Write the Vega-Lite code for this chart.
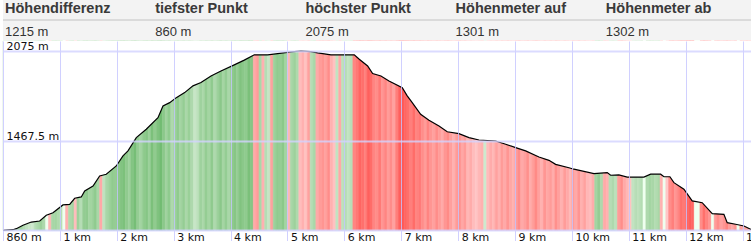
{
  "$schema": "https://vega.github.io/schema/vega-lite/v6.json",
  "padding": 0,
  "background": "#ffffff",
  "spacing": 0,
  "config": {"view": {"stroke": null}, "concat": {"spacing": 0}},
  "datasets": {
    "head": [
      {"i": 0, "label": "Höhendifferenz", "value": "1215 m"},
      {"i": 1, "label": "tiefster Punkt", "value": "860 m"},
      {"i": 2, "label": "höchster Punkt", "value": "2075 m"},
      {"i": 3, "label": "Höhenmeter auf", "value": "1301 m"},
      {"i": 4, "label": "Höhenmeter ab", "value": "1302 m"}
    ],
    "prof": [
      {"d":0,"h":860},{"d":0.176,"h":864},{"d":0.234,"h":871},{"d":0.351,"h":894},{"d":0.497,"h":916},{"d":0.645,"h":923},{"d":0.761,"h":962},{"d":0.879,"h":979},{"d":1.054,"h":1032},{"d":1.172,"h":1036},{"d":1.26,"h":1077},{"d":1.376,"h":1086},{"d":1.436,"h":1126},{"d":1.582,"h":1160},{"d":1.699,"h":1228},{"d":1.815,"h":1240},{"d":1.991,"h":1296},{"d":2.109,"h":1364},{"d":2.197,"h":1398},{"d":2.343,"h":1488},{"d":2.518,"h":1545},{"d":2.724,"h":1623},{"d":2.812,"h":1703},{"d":2.93,"h":1725},{"d":3.046,"h":1759},{"d":3.193,"h":1793},{"d":3.339,"h":1839},{"d":3.48,"h":1861},{"d":3.656,"h":1906},{"d":3.831,"h":1940},{"d":4.065,"h":1981},{"d":4.241,"h":2013},{"d":4.417,"h":2049},{"d":4.652,"h":2049},{"d":4.828,"h":2057},{"d":5.061,"h":2069},{"d":5.237,"h":2075},{"d":5.413,"h":2071},{"d":5.531,"h":2062},{"d":5.764,"h":2049},{"d":5.94,"h":2049},{"d":6.174,"h":2049},{"d":6.262,"h":2019},{"d":6.409,"h":1974},{"d":6.497,"h":1922},{"d":6.643,"h":1906},{"d":6.784,"h":1872},{"d":7.018,"h":1827},{"d":7.105,"h":1771},{"d":7.193,"h":1725},{"d":7.341,"h":1646},{"d":7.487,"h":1606},{"d":7.663,"h":1567},{"d":7.808,"h":1528},{"d":8.014,"h":1515},{"d":8.19,"h":1488},{"d":8.366,"h":1472},{"d":8.659,"h":1465},{"d":8.835,"h":1443},{"d":9.011,"h":1420},{"d":9.186,"h":1398},{"d":9.42,"h":1357},{"d":9.596,"h":1334},{"d":9.713,"h":1307},{"d":9.947,"h":1284},{"d":10.035,"h":1274},{"d":10.387,"h":1244},{"d":10.62,"h":1251},{"d":10.68,"h":1233},{"d":10.826,"h":1235},{"d":10.972,"h":1221},{"d":11.265,"h":1221},{"d":11.383,"h":1240},{"d":11.559,"h":1240},{"d":11.617,"h":1223},{"d":11.722,"h":1223},{"d":11.793,"h":1183},{"d":11.968,"h":1138},{"d":12.114,"h":1059},{"d":12.29,"h":1047},{"d":12.466,"h":973},{"d":12.671,"h":968},{"d":12.729,"h":912},{"d":12.877,"h":901},{"d":13.023,"h":889},{"d":13.14,"h":867},{"d":13.2,"h":860}
    ],
    "str": [
      {"d":0.00,"g":8},{"d":0.05,"g":10},{"d":0.10,"g":12},{"d":0.15,"g":15},{"d":0.20,"g":18},{"d":0.25,"g":20},{"d":0.30,"g":22},{"d":0.35,"g":15},{"d":0.40,"g":10},{"d":0.45,"g":6},
      {"d":0.50,"g":5},{"d":0.55,"g":15},{"d":0.60,"g":20},{"d":0.65,"g":25},{"d":0.70,"g":18},{"d":0.75,"g":0},{"d":0.80,"g":-10},{"d":0.85,"g":20},{"d":0.90,"g":22},{"d":0.95,"g":18},
      {"d":1.00,"g":15},{"d":1.05,"g":0},{"d":1.10,"g":-12},{"d":1.15,"g":18},{"d":1.20,"g":22},{"d":1.25,"g":-8},{"d":1.30,"g":25},{"d":1.35,"g":15},{"d":1.40,"g":28},{"d":1.45,"g":30},
      {"d":1.50,"g":22},{"d":1.55,"g":25},{"d":1.60,"g":30},{"d":1.65,"g":20},{"d":1.70,"g":-15},{"d":1.75,"g":10},{"d":1.80,"g":20},{"d":1.85,"g":25},{"d":1.90,"g":30},{"d":1.95,"g":28},
      {"d":2.00,"g":32},{"d":2.05,"g":35},{"d":2.10,"g":38},{"d":2.15,"g":30},{"d":2.20,"g":25},{"d":2.25,"g":35},{"d":2.30,"g":40},{"d":2.35,"g":28},{"d":2.40,"g":22},{"d":2.45,"g":30},
      {"d":2.50,"g":34},{"d":2.55,"g":26},{"d":2.60,"g":38},{"d":2.65,"g":30},{"d":2.70,"g":36},{"d":2.75,"g":42},{"d":2.80,"g":32},{"d":2.85,"g":24},{"d":2.90,"g":30},{"d":2.95,"g":18},
      {"d":3.00,"g":25},{"d":3.05,"g":30},{"d":3.10,"g":22},{"d":3.15,"g":28},{"d":3.20,"g":20},{"d":3.25,"g":26},{"d":3.30,"g":18},{"d":3.35,"g":8},{"d":3.40,"g":12},{"d":3.45,"g":24},
      {"d":3.50,"g":20},{"d":3.55,"g":28},{"d":3.60,"g":22},{"d":3.65,"g":30},{"d":3.70,"g":18},{"d":3.75,"g":25},{"d":3.80,"g":32},{"d":3.85,"g":22},{"d":3.90,"g":28},{"d":3.95,"g":20},
      {"d":4.00,"g":30},{"d":4.05,"g":34},{"d":4.10,"g":28},{"d":4.15,"g":36},{"d":4.20,"g":32},{"d":4.25,"g":30},{"d":4.30,"g":38},{"d":4.35,"g":34},{"d":4.40,"g":-15},{"d":4.45,"g":-20},
      {"d":4.50,"g":20},{"d":4.55,"g":-12},{"d":4.60,"g":15},{"d":4.65,"g":8},{"d":4.70,"g":-18},{"d":4.75,"g":25},{"d":4.80,"g":30},{"d":4.85,"g":28},{"d":4.90,"g":32},{"d":4.95,"g":22},
      {"d":5.00,"g":-10},{"d":5.05,"g":20},{"d":5.10,"g":25},{"d":5.15,"g":18},{"d":5.20,"g":-8},{"d":5.25,"g":-12},{"d":5.30,"g":-6},{"d":5.35,"g":-18},{"d":5.40,"g":15},{"d":5.45,"g":20},
      {"d":5.50,"g":-15},{"d":5.55,"g":-20},{"d":5.60,"g":-22},{"d":5.65,"g":-18},{"d":5.70,"g":-25},{"d":5.75,"g":-12},{"d":5.80,"g":-6},{"d":5.85,"g":10},{"d":5.90,"g":-15},{"d":5.95,"g":12},
      {"d":6.00,"g":15},{"d":6.05,"g":10},{"d":6.10,"g":14},{"d":6.15,"g":-28},{"d":6.20,"g":-32},{"d":6.25,"g":-38},{"d":6.30,"g":-35},{"d":6.35,"g":-30},{"d":6.40,"g":-40},{"d":6.45,"g":-36},
      {"d":6.50,"g":-28},{"d":6.55,"g":-25},{"d":6.60,"g":-32},{"d":6.65,"g":-22},{"d":6.70,"g":-28},{"d":6.75,"g":-20},{"d":6.80,"g":-25},{"d":6.85,"g":-18},{"d":6.90,"g":-30},{"d":6.95,"g":-40},
      {"d":7.00,"g":-42},{"d":7.05,"g":-38},{"d":7.10,"g":-35},{"d":7.15,"g":-30},{"d":7.20,"g":-36},{"d":7.25,"g":-28},{"d":7.30,"g":-32},{"d":7.35,"g":-25},{"d":7.40,"g":-20},{"d":7.45,"g":-28},
      {"d":7.50,"g":-22},{"d":7.55,"g":-18},{"d":7.60,"g":-25},{"d":7.65,"g":-20},{"d":7.70,"g":-15},{"d":7.75,"g":-22},{"d":7.80,"g":-26},{"d":7.85,"g":-18},{"d":7.90,"g":-12},{"d":7.95,"g":-20},
      {"d":8.00,"g":-24},{"d":8.05,"g":-16},{"d":8.10,"g":-20},{"d":8.15,"g":-10},{"d":8.20,"g":-14},{"d":8.25,"g":-8},{"d":8.30,"g":-5},{"d":8.35,"g":-10},{"d":8.40,"g":-12},{"d":8.45,"g":5},
      {"d":8.50,"g":-8},{"d":8.55,"g":-14},{"d":8.60,"g":-10},{"d":8.65,"g":-18},{"d":8.70,"g":-12},{"d":8.75,"g":-20},{"d":8.80,"g":-15},{"d":8.85,"g":-22},{"d":8.90,"g":-16},{"d":8.95,"g":-12},
      {"d":9.00,"g":-20},{"d":9.05,"g":-25},{"d":9.10,"g":-15},{"d":9.15,"g":-18},{"d":9.20,"g":-24},{"d":9.25,"g":-14},{"d":9.30,"g":-20},{"d":9.35,"g":-26},{"d":9.40,"g":-18},{"d":9.45,"g":-12},
      {"d":9.50,"g":-22},{"d":9.55,"g":-16},{"d":9.60,"g":-20},{"d":9.65,"g":-14},{"d":9.70,"g":-24},{"d":9.75,"g":-18},{"d":9.80,"g":-12},{"d":9.85,"g":-20},{"d":9.90,"g":-15},{"d":9.95,"g":-10},
      {"d":10.00,"g":-20},{"d":10.05,"g":-15},{"d":10.10,"g":-22},{"d":10.15,"g":-12},{"d":10.20,"g":-18},{"d":10.25,"g":-10},{"d":10.30,"g":-8},{"d":10.35,"g":-14},{"d":10.40,"g":22},{"d":10.45,"g":28},
      {"d":10.50,"g":18},{"d":10.55,"g":-15},{"d":10.60,"g":-12},{"d":10.65,"g":15},{"d":10.70,"g":18},{"d":10.75,"g":12},{"d":10.80,"g":-20},{"d":10.85,"g":-25},{"d":10.90,"g":-15},{"d":10.95,"g":-10},
      {"d":11.00,"g":-6},{"d":11.05,"g":10},{"d":11.10,"g":14},{"d":11.15,"g":12},{"d":11.20,"g":16},{"d":11.25,"g":0},{"d":11.30,"g":18},{"d":11.35,"g":22},{"d":11.40,"g":20},{"d":11.45,"g":16},
      {"d":11.50,"g":20},{"d":11.55,"g":-12},{"d":11.60,"g":0},{"d":11.65,"g":-4},{"d":11.70,"g":-25},{"d":11.75,"g":-30},{"d":11.80,"g":-22},{"d":11.85,"g":-28},{"d":11.90,"g":-35},{"d":11.95,"g":-32},
      {"d":12.00,"g":-38},{"d":12.05,"g":-40},{"d":12.10,"g":-38},{"d":12.15,"g":0},{"d":12.20,"g":0},{"d":12.25,"g":-25},{"d":12.30,"g":-35},{"d":12.35,"g":-28},{"d":12.40,"g":-22},{"d":12.45,"g":0},
      {"d":12.50,"g":-20},{"d":12.55,"g":-25},{"d":12.60,"g":-18},{"d":12.65,"g":-22},{"d":12.70,"g":-28},{"d":12.75,"g":-20},{"d":12.80,"g":-15},{"d":12.85,"g":-22},{"d":12.90,"g":0},{"d":12.95,"g":-18},
      {"d":13.00,"g":-14},{"d":13.05,"g":-20},{"d":13.10,"g":-16},{"d":13.15,"g":-12},{"d":13.20}
    ]
  },
  "vconcat": [
    {
      "width": 751,
      "height": 40,
      "data": {"name": "head"},
      "view": {"fill": "#f3f3f3", "stroke": null},
      "layer": [
        {
          "mark": {"type": "rule", "color": "#dadada", "strokeWidth": 1},
          "encoding": {
            "y": {"datum": "v", "type": "nominal", "bandPosition": 0, "axis": null,
                  "scale": {"type": "band", "domain": ["k", "v"], "paddingInner": 0, "paddingOuter": 0}}
          }
        },
        {
          "mark": {"type": "text", "align": "left", "baseline": "alphabetic", "font": "Liberation Sans", "fontSize": 14.5, "fontWeight": "bold", "color": "#3a3a3a", "dx": 2, "dy": 3},
          "encoding": {
            "x": {"field": "i", "type": "quantitative", "axis": null, "scale": {"domain": [0, 5], "nice": false, "zero": false}},
            "y": {"datum": "k", "type": "nominal", "axis": null},
            "text": {"field": "label"}
          }
        },
        {
          "mark": {"type": "text", "align": "left", "baseline": "alphabetic", "font": "Liberation Sans", "fontSize": 13, "color": "#333333", "dx": 2, "dy": 5.7},
          "encoding": {
            "x": {"field": "i", "type": "quantitative", "axis": null},
            "y": {"datum": "v", "type": "nominal", "axis": null},
            "text": {"field": "value"}
          }
        }
      ]
    },
    {
      "width": 751,
      "height": 201,
      "layer": [
        {
          "data": {"name": "str"},
          "transform": [
            {"window": [{"op": "lead", "field": "d", "as": "dn"}], "sort": [{"field": "d", "order": "ascending"}]},
            {"filter": "datum.dn != null"}
          ],
          "mark": {"type": "rect", "strokeWidth": 0.6},
          "encoding": {
            "x": {"field": "d", "type": "quantitative",
                  "scale": {"domain": [0, 13.2], "nice": false, "zero": false},
                  "axis": {"values": [0,1,2,3,4,5,6,7,8,9,10,11,12,13], "grid": true, "gridColor": "#c4c4ff", "gridWidth": 1, "gridOpacity": 0.8,
                           "domain": false, "ticks": false, "tickSize": 0, "labelAlign": "left", "labelBaseline": "alphabetic",
                           "labelPadding": -1.5, "labelOffset": 3, "labelFont": "DejaVu Sans", "labelFontSize": 11, "labelColor": "#111111",
                           "labelExpr": "datum.value == 0 ? '860 m' : datum.value + ' km'", "labelOverlap": false, "labelFlush": false,
                           "title": null, "zindex": 1}},
            "x2": {"field": "dn"},
            "y": {"datum": 860, "type": "quantitative",
                  "scale": {"domain": [780.7, 2142.8], "nice": false, "zero": false},
                  "axis": {"values": [860, 1467.5, 2075], "grid": true, "gridColor": "#d2d2ff", "gridWidth": 2, "gridOpacity": 0.8,
                           "domain": false, "ticks": false, "tickSize": 0, "labelAlign": "left", "labelBaseline": "alphabetic",
                           "labelPadding": -3, "labelOffset": -1.5, "labelFont": "DejaVu Sans", "labelFontSize": 11, "labelColor": "#111111",
                           "labelExpr": "datum.value == 860 ? '' : datum.value + ' m'", "labelOverlap": false, "labelFlush": false,
                           "title": null, "zindex": 1}},
            "y2": {"datum": 2142.8},
            "color": {"field": "g", "type": "quantitative", "legend": null,
                      "scale": {"domain": [-45, -1, 0, 1, 45], "range": ["#ff4e4e", "#ffcfcf", "#ffffff", "#d8eed8", "#6ab86a"], "clamp": true}},
            "stroke": {"field": "g", "type": "quantitative", "legend": null,
                      "scale": {"domain": [-45, -1, 0, 1, 45], "range": ["#ff4e4e", "#ffcfcf", "#ffffff", "#d8eed8", "#6ab86a"], "clamp": true}}
          }
        },
        {
          "data": {"name": "prof"},
          "mark": {"type": "area", "color": "#ffffff", "opacity": 1},
          "encoding": {
            "x": {"field": "d", "type": "quantitative"},
            "y": {"field": "h", "type": "quantitative"},
            "y2": {"datum": 2142.8}
          }
        },
        {
          "data": {"name": "prof"},
          "mark": {"type": "line", "color": "#000000", "strokeWidth": 1.2},
          "encoding": {
            "x": {"field": "d", "type": "quantitative"},
            "y": {"field": "h", "type": "quantitative"}
          }
        }
      ]
    }
  ]
}
